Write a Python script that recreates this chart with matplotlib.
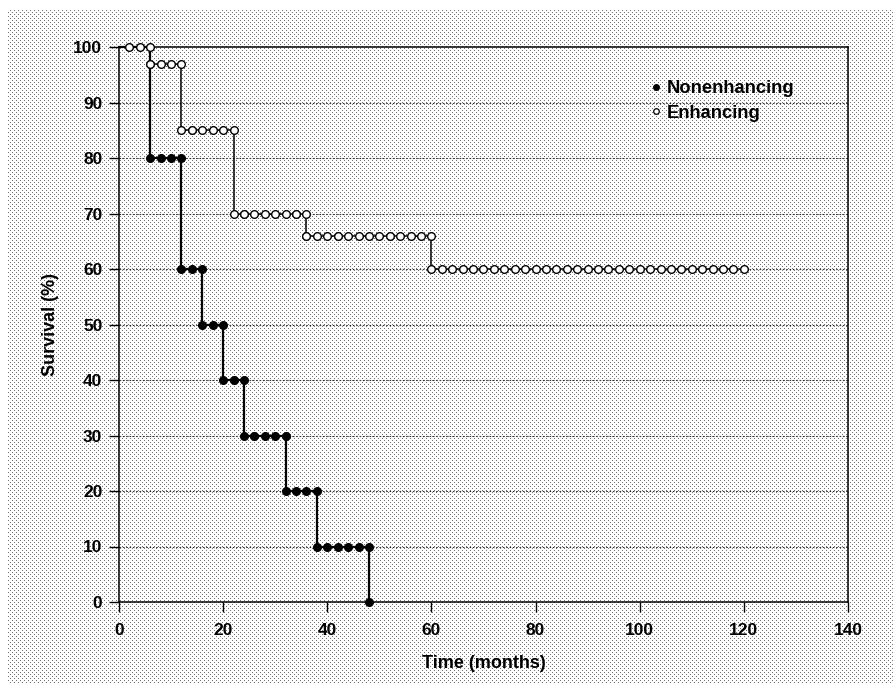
import numpy as np
import matplotlib
matplotlib.use("Agg")
import matplotlib.pyplot as plt
from matplotlib.lines import Line2D

# Overlevelse (%) per nivå, og tidspunktene (måneder) for markørene på hvert nivå
non_levels = [80, 60, 50, 40, 30, 20, 10, 0]
non_times = [
    [6, 8, 10, 12],
    [12, 14, 16],
    [16, 18, 20],
    [20, 22, 24],
    [24, 26, 28, 30, 32],
    [32, 34, 36, 38],
    [38, 40, 42, 44, 46, 48],
    [48],
]

enh_levels = [100, 97, 85, 70, 66, 60]
enh_times = [
    [2, 4, 6],
    [6, 8, 10, 12],
    [12, 14, 16, 18, 20, 22],
    [22, 24, 26, 28, 30, 32, 34, 36],
    [36, 38, 40, 42, 44, 46, 48, 50, 52, 54, 56, 58, 60],
    [60, 62, 64, 66, 68, 70, 72, 74, 76, 78, 80, 82, 84, 86, 88, 90,
     92, 94, 96, 98, 100, 102, 104, 106, 108, 110, 112, 114, 116, 118, 120],
]

x_ticks = [0, 20, 40, 60, 80, 100, 120, 140]
y_ticks = [0, 10, 20, 30, 40, 50, 60, 70, 80, 90, 100]
start_time = 0
start_level = 100


def flatten(levels, times):
    xs, ys = [], []
    for lev, ts in zip(levels, times):
        xs += ts
        ys += [lev] * len(ts)
    return np.array(xs, dtype=float), np.array(ys, dtype=float)


def step_path(xs, ys):
    # trapp: horisontalt fra start til første markør, deretter loddrett fall
    px = np.r_[start_time, xs[0], xs]
    py = np.r_[start_level, start_level, ys]
    return px, py


plt.rcParams["font.family"] = ["Liberation Sans", "DejaVu Sans"]
plt.rcParams["font.weight"] = "bold"
plt.rcParams["axes.labelweight"] = "bold"

W, H = 893, 691
fig = plt.figure(figsize=(W / 100, H / 100), dpi=100, facecolor="white")

# Rasterbakgrunn (prikkmønster som i skannet figur), i egen akse bakerst
ii, jj = np.indices((H, W))
bg = np.ones((H, W))
dots = ((ii % 4 == 0) & (jj % 4 == 0)) | ((ii % 4 == 2) & (jj % 4 == 2))
bg[dots] = 0.45
bg[:9, :] = 1
bg[683:, :] = 1
bg[:, :8] = 1
bgax = fig.add_axes([0, 0, 1, 1], zorder=0)
bgax.imshow(bg, cmap="gray", vmin=0, vmax=1, interpolation="nearest",
            aspect="auto")
bgax.axis("off")

ax = fig.add_axes([119 / W, 1 - 602 / H, (848 - 119) / W, (602 - 47) / H],
                  zorder=1)
ax.set_facecolor("none")

nx, ny = flatten(non_levels, non_times)
ex, ey = flatten(enh_levels, enh_times)

ax.plot(*step_path(nx, ny), color="black", lw=1.6, zorder=3, clip_on=False)
ax.plot(*step_path(ex, ey), color="black", lw=1.1, zorder=3, clip_on=False)

ax.plot(nx, ny, "o", ms=5.5, mfc="black", mec="black", zorder=4, clip_on=False)
ax.plot(ex, ey, "o", ms=5.5, mfc="white", mec="black", mew=1.0, zorder=4,
        clip_on=False)

for yv in y_ticks[1:-1]:
    ax.axhline(yv, color="#333333", lw=0.8, ls=(0, (1.5, 1.5)), zorder=1)

ax.set_xlim(0, 140)
ax.set_ylim(0, 100)
ax.set_xticks(x_ticks)
ax.set_yticks(y_ticks)
ax.tick_params(direction="out", length=7, width=1, labelsize=12.5)
ax.tick_params(axis="x", pad=8)
ax.tick_params(axis="y", pad=5)
for s in ax.spines.values():
    s.set_linewidth(1.1)

ax.set_xlabel("Time (months)", fontsize=13, labelpad=12)
ax.set_ylabel("Survival (%)", fontsize=13, labelpad=10)

handles = [
    Line2D([], [], ls="none", marker="o", ms=4, mfc="black", mec="black"),
    Line2D([], [], ls="none", marker="o", ms=4, mfc="white", mec="black", mew=0.9),
]
ax.legend(handles, ["Nonenhancing", "Enhancing"], loc="upper left",
          bbox_to_anchor=(0.729, 0.94), frameon=False, borderpad=0,
          borderaxespad=0, handlelength=0.6, handletextpad=0.3,
          labelspacing=0.4, fontsize=13.2)

fig.savefig("out.png", dpi=100)
